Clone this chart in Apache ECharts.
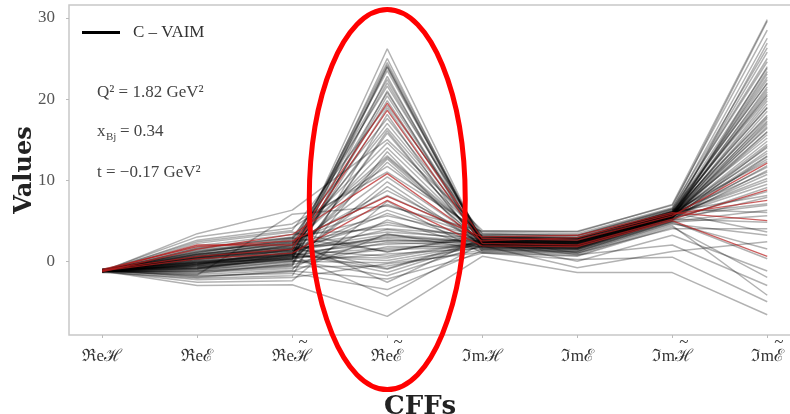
<!DOCTYPE html>
<html>
<head>
<meta charset="utf-8">
<script src="https://cdn.jsdelivr.net/npm/echarts@6/dist/echarts.min.js"></script>
<style>
  html, body { margin: 0; padding: 0; background: #fff; }
  #chart { width: 790px; height: 414px; }
</style>
</head>
<body>
<div id="chart"></div>
<script>
// Compton form factors on the horizontal axis: part, letter, tilde flag
const cffParts = ['ℜe', 'ℜe', 'ℜe', 'ℜe', 'ℑm', 'ℑm', 'ℑm', 'ℑm'];
const cffLetters = ['ℋ', 'ℰ', 'ℋ', 'ℰ', 'ℋ', 'ℰ', 'ℋ', 'ℰ'];
const cffTilde = [false, false, true, true, false, false, true, true];
const cffIndex = [0, 1, 2, 3, 4, 5, 6, 7];
const yTicks = [0, 10, 20, 30];

// Highlighted C-VAIM solutions (red)
const redRuns = [
  [-1.2, 2.0, 2.0, 19.5, 2.8, 2.6, 5.6, 12.1],
  [-1.1, 0.6, 1.5, 18.6, 2.2, 2.0, 5.2, 8.8],
  [-1.3, 1.5, 3.3, 10.8, 2.5, 2.9, 5.8, 7.5],
  [-1.2, 0.3, 1.0, 7.5, 1.9, 1.8, 5.0, 0.6],
  [-1.0, 1.8, 2.5, 8.0, 3.0, 3.2, 6.0, 5.0]
];

// Sampled C-VAIM solutions (grey)
const grayRuns = [
  [-1.2, -0.5, 0.8, 24.2, 2.1, 1.8, 5.4, 18.5],
  [-1.1, 0.4, 1.9, 23.5, 2.6, 2.4, 5.9, 22.0],
  [-1.3, -1.2, -0.6, 22.8, 1.7, 1.4, 5.1, 14.2],
  [-1.2, 1.1, 2.6, 21.6, 3.0, 2.9, 6.2, 25.0],
  [-1.0, -0.2, 0.3, 20.4, 2.3, 2.0, 5.6, 9.5],
  [-1.2, 2.4, 3.8, 19.2, 3.4, 3.1, 6.4, 27.5],
  [-1.4, -2.1, -1.8, 18.1, 1.2, 0.9, 4.6, 3.2],
  [-1.1, 0.8, 1.4, 17.0, 2.7, 2.5, 5.8, 16.4],
  [-1.2, -0.9, -0.2, 15.8, 1.9, 1.6, 5.3, 11.8],
  [-1.3, 1.6, 2.9, 14.6, 3.1, 2.8, 6.0, 20.1],
  [-1.2, -1.6, -1.1, 13.5, 1.5, 1.2, 4.9, 6.3],
  [-1.1, 0.1, 0.9, 12.2, 2.4, 2.2, 5.7, 23.4],
  [-1.2, 3.0, 4.6, 11.0, 3.6, 3.4, 6.6, 29.6],
  [-1.0, -0.7, 0.2, 9.8, 2.0, 1.7, 5.4, 13.0],
  [-1.3, 1.3, 2.2, 8.7, 2.8, 2.7, 6.1, 17.8],
  [-1.2, -2.6, -2.4, 7.4, 1.0, 0.6, 4.2, -2.0],
  [-1.1, 0.6, 1.2, 6.3, 2.5, 2.3, 5.8, 21.2],
  [-1.2, -1.4, -0.9, 5.1, 1.6, 1.3, 5.0, 7.9],
  [-1.2, 1.9, 3.3, 4.0, 3.2, 3.0, 6.3, 24.6],
  [-1.4, -0.3, 0.5, 3.2, 2.2, 1.9, 5.5, 10.7],
  [-1.1, 0.9, 1.7, 2.5, 2.6, 2.5, 5.9, 15.2],
  [-1.2, -1.0, -0.4, 1.8, 1.8, 1.5, 5.2, 4.8],
  [-1.3, 2.2, 3.6, 1.1, 3.3, 3.2, 6.5, 26.3],
  [-1.0, -0.1, 0.6, 0.4, 2.3, 2.1, 5.6, 12.6],
  [-1.2, -2.3, -2.0, -0.3, 1.1, 0.7, 4.4, -4.2],
  [-1.1, 0.3, 1.0, -1.0, 2.4, 2.2, 5.7, 19.0],
  [-1.2, -0.6, 0.1, -1.8, 1.9, 1.7, 5.3, 8.6],
  [-1.3, 1.4, 2.4, -2.6, 2.9, 2.7, 6.0, 22.7],
  [-1.2, -1.8, -1.5, -3.5, 1.3, 1.0, 4.7, 1.5],
  [-1.1, 0.0, 0.7, -4.3, 2.2, 2.0, 5.5, 14.8],
  [-1.2, -0.4, 1.5, 2.8, 2.0, 1.9, 5.4, 17.1],
  [-1.2, 0.5, 2.0, 3.6, 2.8, 2.4, 5.8, 20.6],
  [-1.3, -1.1, 0.0, 0.9, 1.6, 1.5, 5.1, 9.1],
  [-1.1, -0.2, 1.1, 2.1, 2.5, 2.1, 5.6, 16.0],
  [-1.2, 0.7, 2.3, 4.5, 3.0, 2.6, 6.0, 23.8],
  [-1.0, -0.8, 0.4, 1.4, 1.8, 1.6, 5.2, 11.2],
  [-1.2, -1.3, -0.7, -0.6, 1.4, 1.1, 4.8, 5.6],
  [-1.3, 0.2, 1.3, 3.0, 2.4, 2.3, 5.7, 18.0],
  [-1.2, -0.5, 0.6, 0.1, 2.1, 1.8, 5.4, 13.6],
  [-1.1, 1.0, 2.7, 5.6, 3.1, 2.9, 6.2, 21.9],
  [-1.2, -0.3, 0.2, 23.9, 2.0, 1.8, 5.5, 19.8],
  [-1.2, 0.2, 1.6, 22.0, 2.6, 2.4, 5.9, 17.3],
  [-1.1, -0.9, 0.9, 19.8, 2.3, 2.2, 5.6, 15.6],
  [-1.3, 0.6, 2.0, 16.4, 2.7, 2.5, 5.8, 22.4],
  [-1.2, -0.4, 1.2, 24.5, 2.4, 2.0, 5.7, 10.2],
  [-1.2, 1.2, 2.8, 13.0, 2.9, 2.7, 6.1, 25.8],
  [-1.1, -1.5, -0.3, 21.0, 1.7, 1.4, 5.0, 12.9],
  [-1.2, 0.4, 1.8, 10.4, 2.5, 2.3, 5.8, 18.9],
  [-1.3, -0.6, 0.7, 26.2, 2.2, 1.9, 5.5, 14.4],
  [-1.2, 0.8, 2.4, 8.1, 2.8, 2.6, 6.0, 20.4],
  [-1.2, -3.0, -2.9, -6.8, 0.6, -1.4, -1.4, -6.6],
  [-1.1, -2.0, -1.2, -2.2, 1.0, 0.2, 0.5, -5.0],
  [-1.2, -1.7, 5.8, 6.8, 3.7, 3.7, 6.9, 28.5],
  [-1.3, 3.4, 6.3, 15.0, 3.8, 3.6, 7.0, 29.8],
  [-1.2, -0.1, 1.0, -1.4, 2.3, 0.8, 2.0, -3.0],
  [-1.0, 0.5, 1.4, 0.6, 2.4, 0.0, 3.2, -1.2],
  [-1.2, -0.7, 0.3, 2.3, 1.9, -0.8, 1.2, 2.4],
  [-1.2, 0.9, 2.1, 12.8, 2.7, 1.0, 4.0, 4.0],
  [-1.1, -0.2, 0.8, 1.6, 2.1, 1.9, 5.5, 6.9],
  [-1.3, 0.3, 1.3, 3.9, 2.5, 2.3, 5.7, 11.6],
  [-1.2, 0.1, 1.4, 20.8, 2.4, 2.2, 5.7, 16.9],
  [-1.1, -0.6, 0.5, 18.9, 2.1, 1.9, 5.5, 21.5],
  [-1.3, 1.7, 3.0, 17.6, 3.0, 2.8, 6.1, 8.1],
  [-1.2, -1.2, -0.5, 16.1, 1.8, 1.5, 5.2, 24.0],
  [-1.2, 0.5, 1.9, 14.0, 2.6, 2.4, 5.8, 13.3],
  [-1.1, -0.3, 1.0, 12.6, 2.3, 2.1, 5.6, 19.4],
  [-1.3, 2.6, 4.1, 11.7, 3.4, 3.2, 6.4, 6.0],
  [-1.2, -0.9, 0.3, 9.2, 2.0, 1.8, 5.4, 15.9],
  [-1.0, 1.1, 2.5, 7.0, 2.9, 2.7, 6.0, 3.6],
  [-1.2, -0.4, 0.9, 5.9, 2.2, 2.0, 5.6, 20.9],
  [-1.2, 0.3, 1.6, 4.8, 2.5, 2.3, 5.7, 9.9],
  [-1.1, -1.9, -1.3, 3.4, 1.4, 1.2, 4.9, 0.3],
  [-1.3, 0.0, 0.8, 2.6, 2.2, 2.0, 5.5, 23.1],
  [-1.2, 1.5, 2.9, 1.2, 3.0, 2.8, 6.1, 12.3],
  [-1.2, -0.8, 0.0, -0.2, 1.8, 1.6, 5.3, 17.6],
  [-1.1, 0.6, 1.7, -0.9, 2.6, 2.4, 5.8, 7.1],
  [-1.2, -0.2, 0.4, 24.0, 2.3, 2.1, 5.6, 26.9],
  [-1.3, 0.9, 2.2, 22.4, 2.7, 2.5, 5.9, 11.0],
  [-1.2, -1.0, 0.6, 25.0, 1.9, 1.7, 5.4, 16.6],
  [-1.1, 0.4, 1.5, 3.3, 2.4, 2.2, 5.7, 14.0]
];

const SERIF = '"Liberation Serif", "DejaVu Serif", serif';
const BOLD_SERIF = '"DejaVu Serif", "Liberation Serif", serif';
const LEGEND_NAME = 'C – VAIM';

function toPoints(run) {
  return run.map((v, i) => [cffIndex[i], v]);
}

const series = [];
grayRuns.forEach((run, k) => {
  series.push({
    name: k === 0 ? LEGEND_NAME : undefined,
    type: 'line',
    data: toPoints(run),
    symbol: 'none',
    silent: true,
    lineStyle: { color: '#000', width: 1.5, opacity: 0.3 },
    z: 2
  });
});
redRuns.forEach(run => {
  series.push({
    type: 'line',
    data: toPoints(run),
    symbol: 'none',
    silent: true,
    lineStyle: { color: '#b71c1c', width: 1.3, opacity: 0.7 },
    z: 3
  });
});

// Axis label: a tilde line above the CFF name, kept for every label so baselines line up
function cffLabel(v) {
  const i = Math.round(v);
  const top = cffTilde[i] ? '{hid|' + cffParts[i] + '}{tl|~}' : '{hid| }';
  return top + '\n{m|' + cffParts[i] + cffLetters[i] + '}';
}

const chart = echarts.init(document.getElementById('chart'), null, { renderer: 'canvas' });

chart.setOption({
  animation: false,
  backgroundColor: '#fff',
  grid: {
    left: 69, top: 5, width: 731.5, height: 330,
    outerBoundsMode: 'none', containLabel: false,
    show: true, borderColor: '#c8c8c8', borderWidth: 1.5, backgroundColor: 'transparent'
  },
  legend: {
    left: 77, top: 19,
    data: [{ name: LEGEND_NAME, icon: 'rect' }],
    itemWidth: 38, itemHeight: 3,
    itemStyle: { color: '#000', opacity: 1 },
    textStyle: { fontFamily: SERIF, fontSize: 17, color: '#333', padding: [0, 0, 0, 8] }
  },
  xAxis: {
    type: 'value',
    min: -0.35, max: 7.35,
    splitLine: { show: false },
    axisLine: { show: false, onZero: false },
    axisTick: { show: true, customValues: cffIndex, length: 3, lineStyle: { color: '#bbb' } },
    axisLabel: {
      customValues: cffIndex,
      formatter: cffLabel,
      margin: 4,
      fontFamily: SERIF, fontSize: 17, color: '#333',
      rich: {
        hid: { fontFamily: SERIF, fontSize: 17, color: 'rgba(0,0,0,0)', lineHeight: 8 },
        tl: { fontFamily: SERIF, fontSize: 17, color: '#333', width: 14, align: 'center', lineHeight: 8 },
        m: { fontFamily: SERIF, fontSize: 17, color: '#333', lineHeight: 20 }
      }
    }
  },
  yAxis: {
    type: 'value',
    min: -9.1, max: 31.6,
    splitLine: { show: false },
    axisLine: { show: false, onZero: false },
    axisTick: { show: true, customValues: yTicks, length: 3, lineStyle: { color: '#bbb' } },
    axisLabel: {
      customValues: yTicks,
      margin: 14,
      fontFamily: SERIF, fontSize: 17, color: '#555'
    },
    name: 'Values',
    nameLocation: 'middle',
    nameGap: 32,
    nameMoveOverlap: false,
    nameTextStyle: { fontFamily: BOLD_SERIF, fontWeight: 'bold', fontSize: 24, color: '#222' }
  },
  series: series
});

// Kinematics annotation, axis title and the highlight ellipse around ℜeℰ̃
const textStyle = (txt, size) => ({ text: txt, font: size + 'px ' + SERIF, fill: '#444' });
const ellipseCenter = chart.convertToPixel({ gridIndex: 0 }, [3, 7.6]);
chart.setOption({
  graphic: [
    { type: 'text', left: 97, top: 84, style: textStyle('Q² = 1.82 GeV²', 17) },
    { type: 'text', left: 97, top: 123, style: textStyle('x', 17) },
    { type: 'text', left: 106, top: 132, style: textStyle('Bj', 11) },
    { type: 'text', left: 120, top: 123, style: textStyle('= 0.34', 17) },
    { type: 'text', left: 97, top: 164, style: textStyle('t = −0.17 GeV²', 17) },
    {
      type: 'text', left: 384, top: 394,
      style: { text: 'CFFs', font: 'bold 26px ' + BOLD_SERIF, fill: '#222' }
    },
    {
      type: 'ellipse', z: 100,
      shape: { cx: ellipseCenter[0], cy: ellipseCenter[1], rx: 78, ry: 190 },
      style: { fill: 'none', stroke: '#ff0000', lineWidth: 5 }
    }
  ]
});
</script>
</body>
</html>
